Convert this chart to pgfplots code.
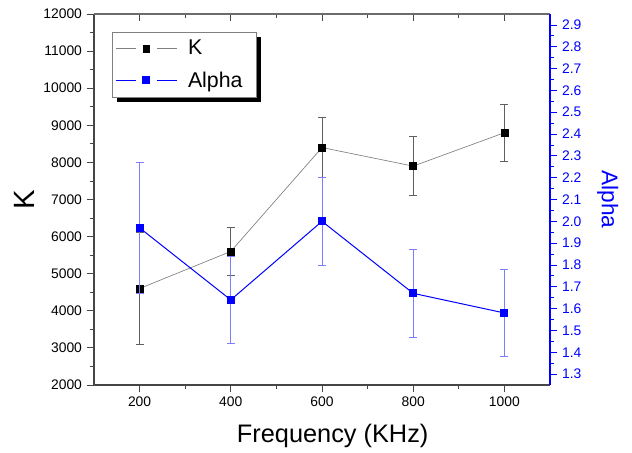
\documentclass[border=0pt]{standalone}
\usepackage{pgfplots}
\pgfplotsset{compat=1.18}
\usepackage{fontspec}
\setmainfont{Liberation Sans}
\definecolor{kgray}{RGB}{128,128,128}
\definecolor{kerr}{RGB}{95,95,95}
\definecolor{ablue}{RGB}{0,0,255}
\definecolor{aerr}{RGB}{125,125,255}
\definecolor{axgray}{RGB}{70,70,70}
\pgfdeclarelayer{background}
\pgfsetlayers{background,main}

\begin{document}
\begin{tikzpicture}
\useasboundingbox (-70.5pt,-51pt) rectangle (403.5pt,288.75pt);
\pgfplotsset{
  every axis/.append style={
    at={(0pt,0pt)}, anchor=south west, scale only axis,
    width=342pt, height=278.25pt,
    xmin=100, xmax=1100,
    /pgf/number format/assume math mode=true,
    /pgf/number format/set thousands separator={},
    tick label style={font=\fontsize{10.4}{12}\selectfont},
    major tick length=5.5pt, minor tick length=3pt,
    axis line style={-},
  }
}
% main axis (K)
\begin{axis}[
  axis x line*=bottom, axis y line*=left,
  tick align=outside,
  ymin=2000, ymax=12000,
  xtick={200,400,600,800,1000}, minor x tick num=1,
  ytick={2000,3000,...,12000}, minor y tick num=1,
  scaled y ticks=false,
  axis line style={draw=axgray, line width=0.8pt},
  tick style={draw=axgray, line width=0.6pt},
  xlabel={Frequency (KHz)}, ylabel={K},
  xlabel style={font=\fontsize{19}{22}\selectfont, xshift=8pt, yshift=-6pt},
  ylabel style={font=\fontsize{22}{25}\selectfont},
]
\addplot[kgray, line width=0.5pt, mark=square*, mark size=2.6pt,
  mark options={fill=black, draw=black},
  error bars/.cd, y dir=both, y explicit,
  error bar style={kerr, line width=0.6pt},
  error mark options={rotate=90, kerr, mark size=3pt, line width=0.6pt}]
 coordinates {(200,4600) +- (0,1500) (400,5600) +- (0,650) (600,8400) +- (0,800)
   (800,7900) +- (0,800) (1000,8800) +- (0,775)};
\end{axis}
% top axis ticks (inside)
\begin{axis}[
  axis x line*=top, axis y line=none,
  tick align=inside,
  ymin=0, ymax=1,
  xtick={200,400,600,800,1000}, minor x tick num=1,
  xticklabels={},
  axis line style={draw=axgray!80, line width=0.8pt},
  tick style={draw=axgray, line width=0.6pt},
]
\end{axis}
% right axis (Alpha)
\begin{axis}[
  axis x line=none, axis y line*=right,
  tick align=outside,
  ymin=1.25, ymax=2.95,
  ytick={1.3,1.4,1.5,1.6,1.7,1.8,1.9,2.0,2.1,2.2,2.3,2.4,2.5,2.6,2.7,2.8,2.9},
  minor y tick num=1,
  yticklabel style={ablue, /pgf/number format/.cd, fixed, fixed zerofill, precision=1},
  axis line style={draw=ablue, line width=0.8pt},
  tick style={draw=ablue, line width=0.6pt},
  ylabel={Alpha},
  ylabel shift=5pt,
  ylabel style={ablue, rotate=180, font=\fontsize{17}{20}\selectfont},
  legend style={name=leg, at={(0.0395,0.9515)}, anchor=north west,
    draw=kgray, fill=white, line width=0.5pt,
    row sep=7pt,
    inner xsep=2pt, inner ysep=4pt,
    nodes={inner xsep=8pt, font=\fontsize{16}{19}\selectfont}},
  legend cell align=left,
  legend image code/.code={
    \draw[mark=none] (0pt,0pt) -- (15pt,0pt);
    \draw[mark=none] (31pt,0pt) -- (46pt,0pt);
    \draw plot coordinates {(23pt,0pt)};
  },
]
\addlegendimage{kgray, line width=0.5pt, mark=square*, mark size=2.4pt, mark options={fill=black, draw=black}}
\addlegendentry{K}
\addplot[ablue, line width=0.75pt, mark=square*, mark size=2.6pt,
  mark options={fill=ablue, draw=ablue},
  error bars/.cd, y dir=both, y explicit,
  error bar style={aerr, line width=0.6pt},
  error mark options={rotate=90, aerr, mark size=3pt, line width=0.6pt}]
 coordinates {(200,1.97) +- (0,0.3) (400,1.64) +- (0,0.2) (600,2.0) +- (0,0.2)
   (800,1.67) +- (0,0.2) (1000,1.58) +- (0,0.2)};
\addlegendentry{Alpha}
\end{axis}
\begin{pgfonlayer}{background}
\fill[black] ([shift={(3.5pt,-3.5pt)}]leg.south west) rectangle ([shift={(3.5pt,-3.5pt)}]leg.north east);
\end{pgfonlayer}
\end{tikzpicture}
\end{document}
